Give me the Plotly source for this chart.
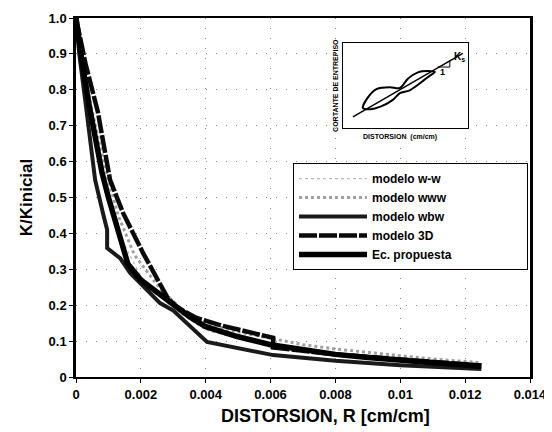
import plotly.graph_objects as go

# ---------------- data ----------------
X_TICKS = [0, 0.002, 0.004, 0.006, 0.008, 0.010, 0.012, 0.014]
X_TICK_TEXT = ["0", "0.002", "0.004", "0.006", "0.008", "0.01", "0.012", "0.014"]
Y_TICKS = [0, 0.1, 0.2, 0.3, 0.4, 0.5, 0.6, 0.7, 0.8, 0.9, 1.0]
Y_TICK_TEXT = ["0", "0.1", "0.2", "0.3", "0.4", "0.5", "0.6", "0.7", "0.8", "0.9", "1.0"]

ww_x = [0, 0.0003, 0.0008, 0.0012, 0.002, 0.003, 0.004, 0.006, 0.008, 0.010, 0.0125]
ww_y = [1.0, 0.80, 0.55, 0.42, 0.28, 0.19, 0.13, 0.085, 0.065, 0.05, 0.038]

www_x = [0, 0.0002, 0.0005, 0.0009, 0.0013, 0.0018, 0.0026, 0.0033, 0.004, 0.005, 0.006,
         0.007, 0.008, 0.009, 0.010, 0.011, 0.0125]
www_y = [1.0, 0.88, 0.74, 0.58, 0.45, 0.34, 0.245, 0.185, 0.15, 0.125, 0.108,
         0.09, 0.078, 0.068, 0.058, 0.05, 0.04]

wbw_x = [0, 0.0001, 0.0003, 0.00059, 0.00083, 0.00096, 0.00096, 0.00136, 0.00167, 0.00259,
         0.0030, 0.0034, 0.00404, 0.00608, 0.008, 0.010, 0.0125]
wbw_y = [1.0, 0.90, 0.76, 0.549, 0.457, 0.41, 0.359, 0.331, 0.29, 0.206,
         0.185, 0.150, 0.0975, 0.061, 0.045, 0.033, 0.022]

m3d_x = [0, 0.0003, 0.00067, 0.00105, 0.00145, 0.00207, 0.00281, 0.0031, 0.0037, 0.0045,
         0.00608, 0.00608, 0.008, 0.010, 0.0125]
m3d_y = [1.0, 0.87, 0.74, 0.549, 0.457, 0.345, 0.223, 0.195, 0.165, 0.143,
         0.109, 0.082, 0.063, 0.048, 0.032]

ec_x = [0, 0.0001, 0.0002, 0.0004, 0.0006, 0.0008, 0.001, 0.0012, 0.0014, 0.0016, 0.002,
        0.0025, 0.003, 0.0035, 0.004, 0.005, 0.006, 0.007, 0.008, 0.009, 0.010, 0.011, 0.0125]
ec_y = [1.0, 0.93, 0.87, 0.76, 0.66, 0.57, 0.50, 0.44, 0.37, 0.315, 0.27,
        0.235, 0.20, 0.168, 0.14, 0.112, 0.09, 0.075, 0.063, 0.054, 0.046, 0.04, 0.03]

# inset (schematic hysteresis), normalised 0..1 coordinates
inset_line_x = [0.08, 0.96]
inset_line_y = [0.13, 0.88]
loop_x = [0.16, 0.20, 0.272, 0.376, 0.456, 0.52, 0.60, 0.68, 0.736,
          0.70, 0.62, 0.53, 0.456, 0.40, 0.30, 0.22, 0.16]
loop_y = [0.235, 0.36, 0.46, 0.48, 0.47, 0.58, 0.655, 0.67, 0.66,
          0.62, 0.53, 0.44, 0.41, 0.33, 0.25, 0.22, 0.235]
tri_x = [0.76, 0.856, 0.856]
tri_y = [0.718, 0.718, 0.80]

FONT = "Liberation Sans, Arial, sans-serif"
NB = "\u00a0"

fig = go.Figure()

series = [
    ("modelo w-w", ww_x, ww_y, dict(color="#b8b8b8", width=1.2, dash="dot")),
    ("modelo www", www_x, www_y, dict(color="#a0a0a0", width=3, dash="dot")),
    ("modelo wbw", wbw_x, wbw_y, dict(color="#1a1a1a", width=4)),
    ("modelo 3D", m3d_x, m3d_y, dict(color="#0a0a0a", width=4.5, dash="18px,2px")),
    ("Ec. propuesta" + NB * 21, ec_x, ec_y, dict(color="#000000", width=5.5)),
]
for name, xs, ys, ln in series:
    fig.add_trace(go.Scatter(x=xs, y=ys, mode="lines", name=name, line=ln))

# inset traces
fig.add_trace(go.Scatter(x=inset_line_x, y=inset_line_y, mode="lines", xaxis="x2", yaxis="y2",
                         line=dict(color="black", width=1.5), showlegend=False, hoverinfo="skip"))
fig.add_trace(go.Scatter(x=loop_x, y=loop_y, mode="lines", xaxis="x2", yaxis="y2",
                         line=dict(color="black", width=2, shape="spline", smoothing=0.8),
                         showlegend=False, hoverinfo="skip"))
fig.add_trace(go.Scatter(x=tri_x, y=tri_y, mode="lines", xaxis="x2", yaxis="y2",
                         line=dict(color="black", width=1), showlegend=False, hoverinfo="skip"))

fig.update_layout(
    width=544, height=424,
    margin=dict(l=68, r=22, t=10, b=55, autoexpand=False),
    paper_bgcolor="white", plot_bgcolor="white",
    font=dict(family=FONT, color="black"),
    xaxis=dict(range=[0, 0.014], tickvals=X_TICKS, ticktext=X_TICK_TEXT,
               tickfont=dict(size=13, weight="bold"), automargin=False,
               showline=True, linecolor="black", linewidth=2, mirror=True,
               ticks="outside", ticklen=4, tickcolor="black",
               showgrid=True, gridcolor="#8a8a8a", gridwidth=1, griddash="1px,9px",
               zeroline=False),
    yaxis=dict(range=[0, 1.0], tickvals=Y_TICKS, ticktext=Y_TICK_TEXT,
               tickfont=dict(size=13, weight="bold"), automargin=False,
               showline=True, linecolor="black", linewidth=2.5, mirror=True,
               ticks="outside", ticklen=4, tickcolor="black",
               showgrid=True, gridcolor="#8a8a8a", gridwidth=1, griddash="1px,9px",
               zeroline=False,
               title=dict(text="K/Kinicial", font=dict(size=17, weight="bold"), standoff=12)),
    xaxis2=dict(domain=[0.588, 0.863], anchor="y2", range=[0, 1], showticklabels=False,
                showgrid=False, zeroline=False, showline=True, linecolor="black",
                linewidth=1, mirror=True, ticks="", automargin=False),
    yaxis2=dict(domain=[0.694, 0.930], anchor="x2", range=[0, 1], showticklabels=False,
                showgrid=False, zeroline=False, showline=True, linecolor="black",
                linewidth=1, mirror=True, ticks="", automargin=False),
    legend=dict(x=0.478, y=0.596, xanchor="left", yanchor="top",
                bgcolor="white", bordercolor="black", borderwidth=1,
                font=dict(size=12, weight="bold"), itemwidth=68,
                tracegroupgap=0),
    showlegend=True,
    annotations=[
        dict(text="DISTORSION, R [cm/cm]", x=0.55, y=-0.109, xref="paper", yref="paper",
             xanchor="center", yanchor="middle", showarrow=False,
             font=dict(size=18, weight="bold")),
        dict(text="CORTANTE DE ENTREPISO", x=0.570, y=0.813, xref="paper", yref="paper",
             xanchor="center", yanchor="middle",
             textangle=-90, showarrow=False, font=dict(size=7, weight="bold")),
        dict(text="DISTORSION" + NB * 2 + "(cm/cm)", x=0.714, y=0.669, xref="paper", yref="paper",
             xanchor="center", yanchor="middle",
             showarrow=False, font=dict(size=7, weight="bold")),
        dict(text="1", x=0.80, y=0.66, xref="x2", yref="y2", showarrow=False,
             font=dict(size=9, weight="bold")),
        dict(text="K<sub>s</sub>", x=0.87, y=0.84, xref="x2", yref="y2", showarrow=False,
             xanchor="left", font=dict(size=10, weight="bold")),
    ],
)

fig.write_html("out.html")
